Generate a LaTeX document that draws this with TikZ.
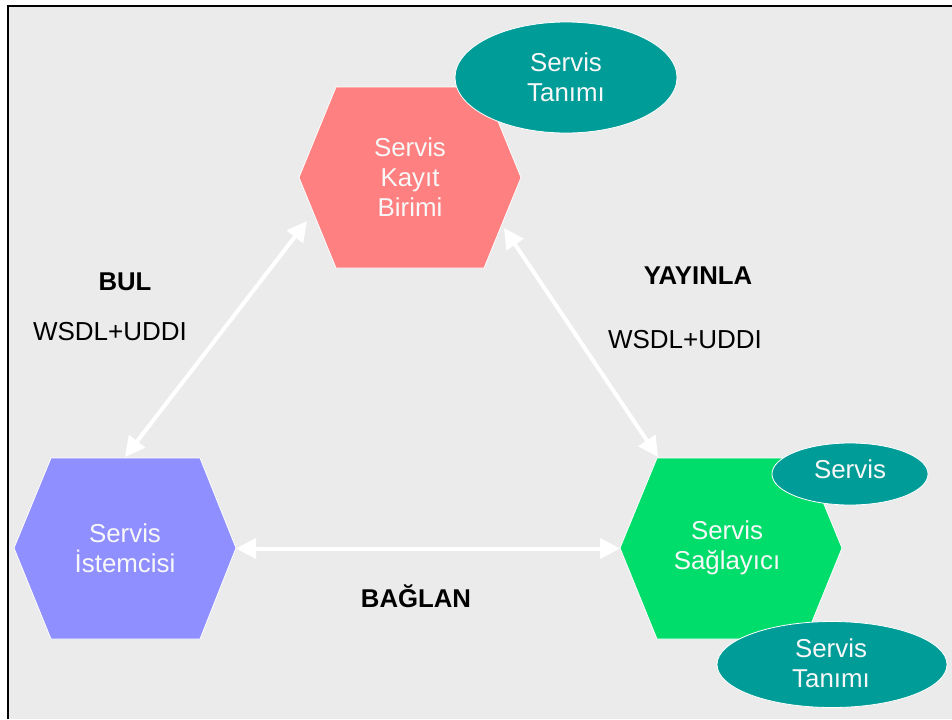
\documentclass[tikz,border=0pt]{standalone}
\usepackage{fontspec}
\setmainfont{Liberation Sans}
\usetikzlibrary{arrows.meta}

\definecolor{bgGray}{RGB}{235,235,235}
\definecolor{kayitRed}{RGB}{255,128,128}
\definecolor{istemciBlue}{RGB}{143,143,255}
\definecolor{saglayiciGreen}{RGB}{0,221,106}
\definecolor{tanimTeal}{RGB}{0,156,152}
\definecolor{shapeText}{RGB}{248,248,248}

\tikzset{
  hexa/.style={draw=white, line width=0.6},
  bubble/.style={draw=white, line width=0.6, fill=tanimTeal},
  intext/.style={inner sep=0.75pt, align=center, text=shapeText, font=\fontsize{19.4}{22.5}\selectfont},
  lbl/.style={inner sep=0.75pt, text=black, font=\fontsize{19.5}{22.5}\selectfont},
  lblbold/.style={lbl, font=\fontsize{19.3}{22.5}\selectfont\bfseries},
  link/.style={draw=white, line width=3pt, {Triangle[length=15pt,width=15pt]}-{Triangle[length=15pt,width=15pt]}}
}

\begin{document}
\begin{tikzpicture}[x=0.75pt,y=0.75pt,yscale=-1,xscale=1]
\useasboundingbox (0,0) rectangle (952,719);
\fill[white] (0,0) rectangle (952,719);
\fill[bgGray] (8,6) rectangle (952,719);
%Straight Lines (frame)
\draw[line width=1.9pt] (8,719) -- (8,6) -- (952,6);

%Shape: Hexagon [Servis Kayit Birimi]
\draw[hexa, fill=kayitRed] (299,177.5) -- (336,87) -- (484,87) -- (521,177.5) -- (484,268) -- (336,268) -- cycle;
%Shape: Hexagon [Servis Istemcisi]
\draw[hexa, fill=istemciBlue] (14,548) -- (51,458) -- (200,458) -- (236,548) -- (200,639) -- (51,639) -- cycle;
%Shape: Hexagon [Servis Saglayici]
\draw[hexa, fill=saglayiciGreen] (620,548) -- (657,458) -- (805,458) -- (842,548) -- (805,639) -- (657,639) -- cycle;

%Shape: Ellipse
\draw[bubble] (566,77.5) ellipse [x radius=111, y radius=55.5];
%Shape: Ellipse
\draw[bubble] (850,474) ellipse [x radius=78, y radius=31];
%Shape: Ellipse
\draw[bubble] (832,664.5) ellipse [x radius=115, y radius=43];

% Text Node
\draw (410,177) node[intext] (kayit) {Servis\\Kayıt\\Birimi};
% Text Node
\draw (125,548) node[intext] (istemci) {Servis\\İstemcisi};
% Text Node
\draw (727,548) node[intext] (saglayici) {Servis\\Sağlayıcı};
% Text Node
\draw (566,77) node[intext] (tanimKayit) {Servis\\Tanımı};
% Text Node
\draw (850,469) node[intext] (servis) {Servis};
% Text Node
\draw (831,663) node[intext] (tanimSaglayici) {Servis\\Tanımı};

% Text Node
\draw (125,282) node[lblbold] (bul) {BUL};
% Text Node
\draw (110,332) node[lbl] (wsdlBul) {WSDL+UDDI};
% Text Node
\draw (698,276) node[lblbold] (yayinla) {YAYINLA};
% Text Node
\draw (685,340) node[lbl] (wsdlYayinla) {WSDL+UDDI};
% Text Node
\draw (416,596) node[lblbold] (baglan) {BAĞLAN};

% arrow ends on the hexagons
\coordinate (istemciN) at (125,457);
\coordinate (kayitSW) at (307,221);
\coordinate (kayitSE) at (504,228);
\coordinate (saglayiciNW) at (658,457);
\coordinate (istemciE) at (236,548.5);
\coordinate (saglayiciW) at (620,548.5);

%Straight Lines
\draw[link] (istemciN) -- (kayitSW);
%Straight Lines
\draw[link] (kayitSE) -- (saglayiciNW);
%Straight Lines
\draw[link] (istemciE) -- (saglayiciW);

\end{tikzpicture}
\end{document}
